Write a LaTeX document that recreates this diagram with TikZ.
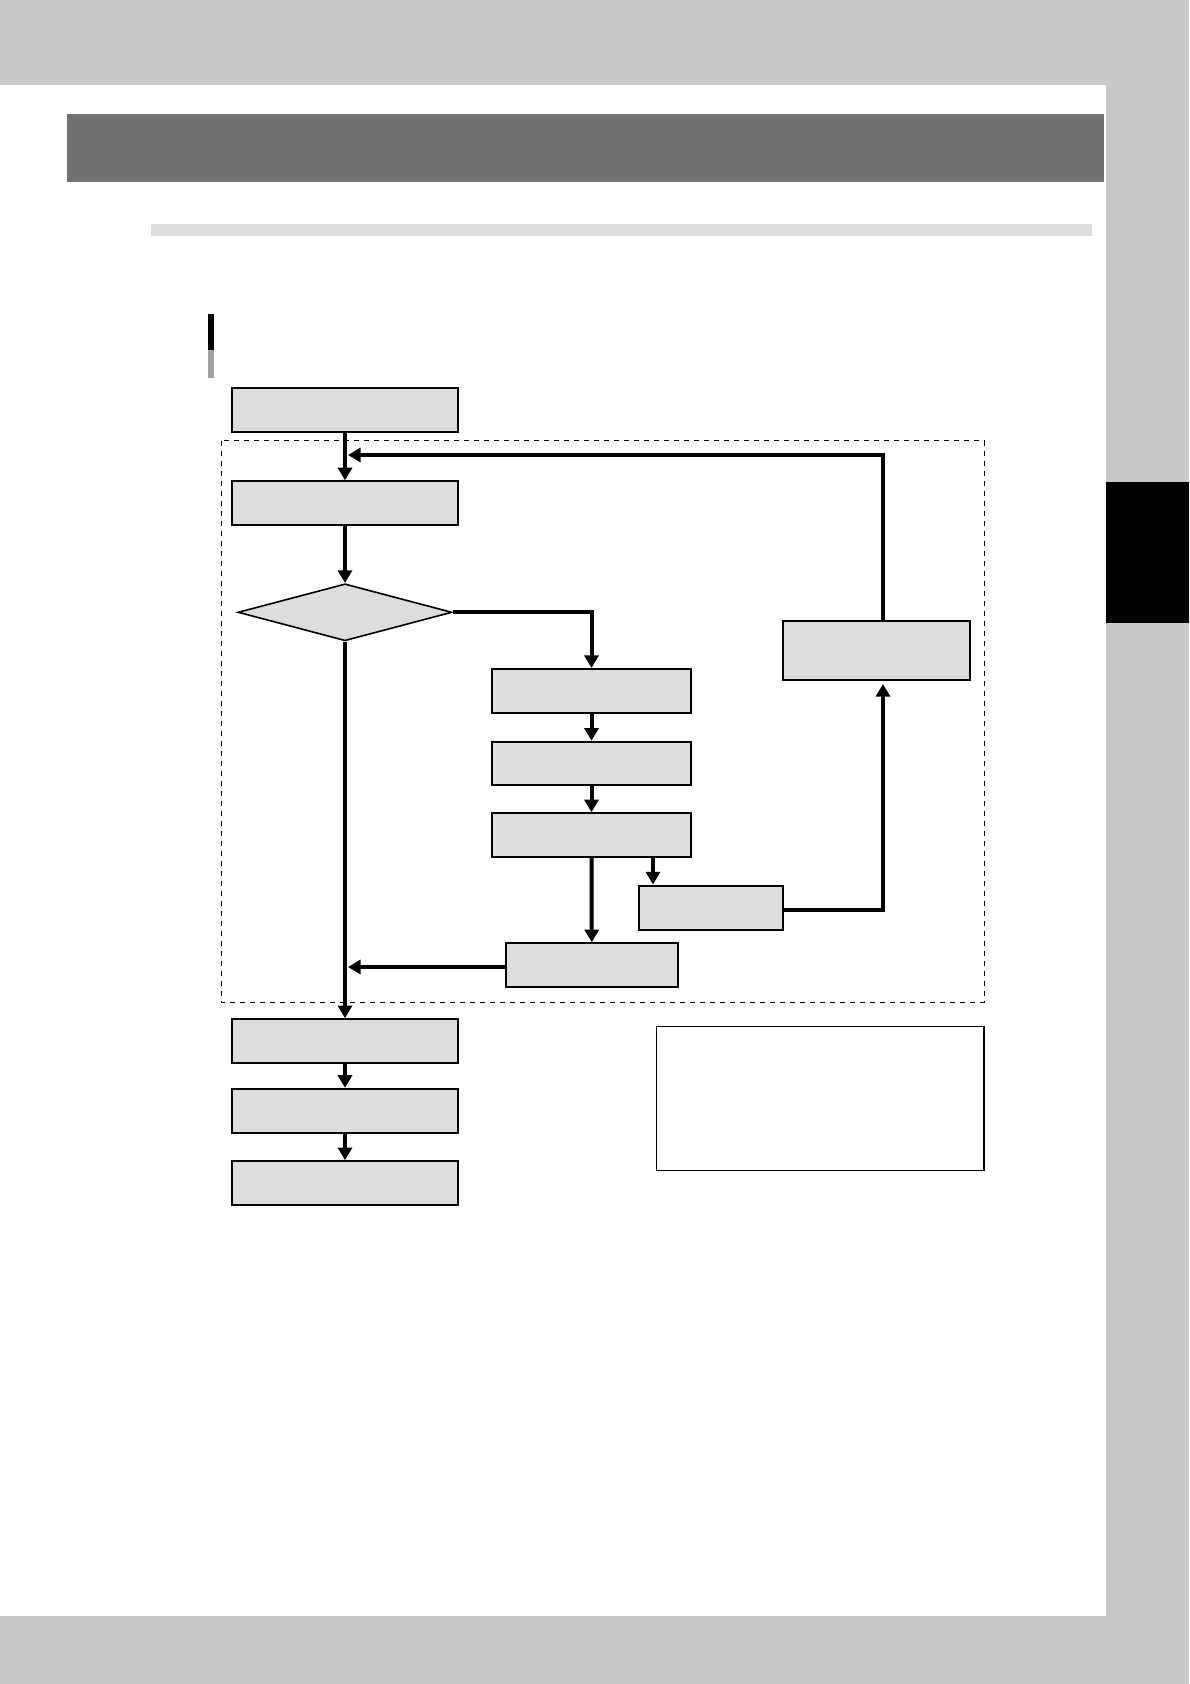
\documentclass[tikz,border=0pt]{standalone}
\usepackage{xcolor}
\usepackage{tikz}
\usetikzlibrary{shapes.geometric, arrows.meta, calc}

\definecolor{pagegray}{HTML}{C8C9C8}
\definecolor{headgray}{HTML}{727272}
\definecolor{boxgray}{HTML}{DCDDDC}
\definecolor{bargray}{HTML}{9F9F9F}

\begin{document}
\begin{tikzpicture}[x=0.5pt, y=-0.5pt,
    box/.style={draw, line width=1pt, fill=boxgray, inner sep=0pt, minimum width=113pt, minimum height=22pt},
    midbox/.style={box, minimum width=99.5pt},
    decision/.style={diamond, draw, line width=0.8pt, fill=boxgray, inner sep=0pt, aspect=3.76, minimum width=107pt, minimum height=28.5pt},
    flow/.style={line width=2pt, -{Triangle[length=6.3pt,width=7pt]}}]

    % page
    \useasboundingbox (0,0) rectangle (1189,1684);
    \fill[pagegray] (0,0) rectangle (1189,1684);
    \fill[white] (0,85) rectangle (1106,1616);
    \fill[black] (1106,482) rectangle (1189,623);
    \fill[headgray] (67,114) rectangle (1104,182);
    \fill[boxgray] (151,224) rectangle (1092,236);
    \fill[black] (208,314) rectangle (214,350);
    \fill[bargray] (208,350) rectangle (214,378);

    % loop frame
    \draw[dash pattern=on 2.7pt off 2.3pt, line width=0.5pt] (221,441) rectangle (984,1002);

    \node[box] (start) at (345,410) {};
    \node[box] (top) at (345,503.3) {};
    \node[decision] (dec) at (345,612.3) {};
    \node[box, minimum width=93.5pt, minimum height=29.5pt] (c) at (876.5,650.5) {};
    \node[midbox] (d1) at (591.5,691) {};
    \node[midbox, minimum height=21.5pt] (d2) at (591.5,763.2) {};
    \node[midbox] (d3) at (591.5,835.2) {};
    \node[box, minimum width=72pt] (g) at (711,907.5) {};
    \node[box, minimum width=86.2pt] (h) at (591.8,965.2) {};
    \node[box] (i) at (345,1041.2) {};
    \node[box] (j) at (345,1110.8) {};
    \node[box] (k) at (345,1183.2) {};
    \node[draw, line width=0.7pt, fill=white, inner sep=0pt, minimum width=163.7pt, minimum height=72pt] (note) at (820.3,1098.3) {};

    \coordinate (gin) at ($(g.north west)+(15,0)$);
    \coordinate (cin) at ($(c.south)+(6.5,0)$);
    \coordinate (cout) at ($(c.north)+(6.5,0)$);
    \coordinate (join) at (348,455);
    \coordinate (hjoin) at (348,967);

    \draw[flow] (start) -- (top);
    \draw[flow] (top) -- (dec);
    \draw[flow] (dec.east) -| (d1);
    \draw[flow] (d1) -- (d2);
    \draw[flow] (d2) -- (d3);
    \draw[flow] (gin |- d3.south) -- (gin);
    \draw[flow] (d3) -- (h);
    \draw[flow, shorten >=1.5pt] (g.east |- 0,910) -| (cin);
    \draw[flow] (cout) |- (join);
    \draw[flow] (h.west |- hjoin) -- (hjoin);
    \draw[flow] (dec) -- (i);
    \draw[flow] (i) -- (j);
    \draw[flow] (j) -- (k);
\end{tikzpicture}
\end{document}
